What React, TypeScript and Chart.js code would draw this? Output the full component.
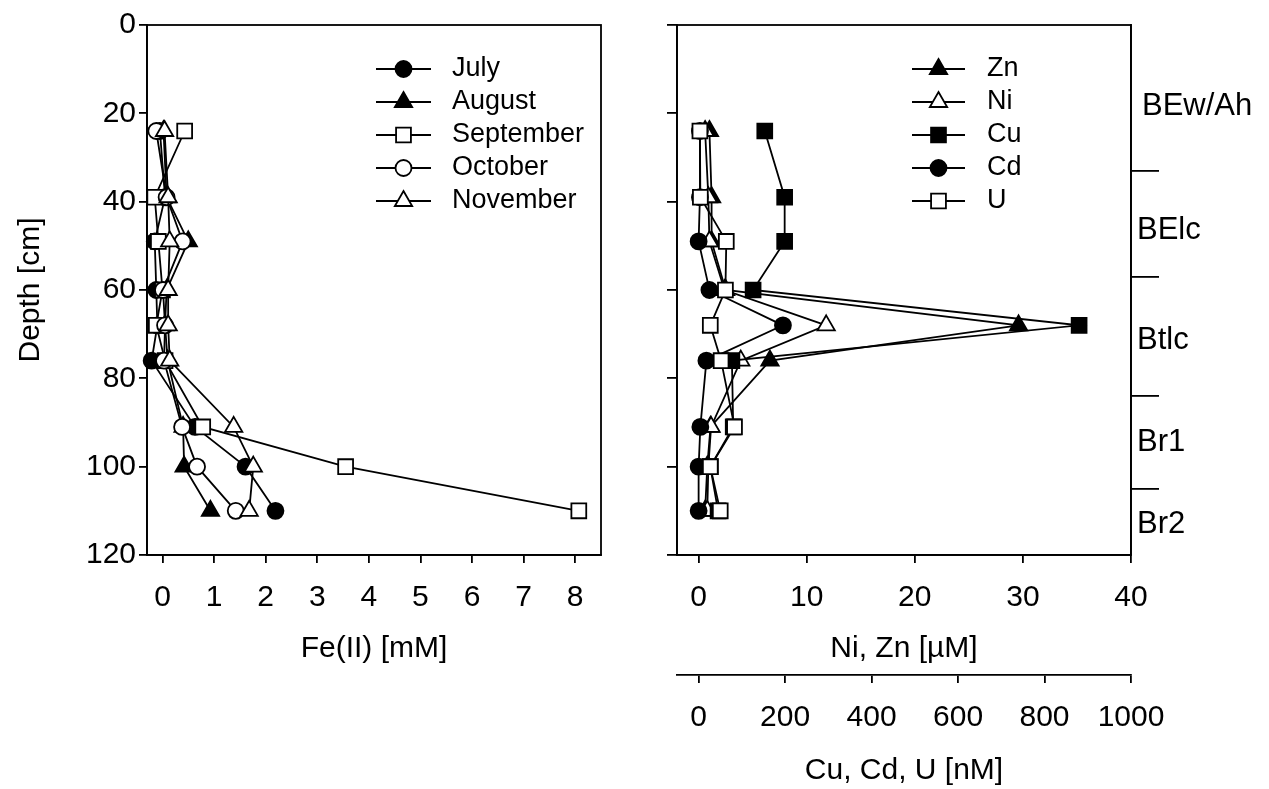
import React, { useEffect, useRef } from 'react';
import { Chart, registerables } from 'chart.js';
import { drawPoint } from 'chart.js/helpers';

Chart.register(...registerables);

// ---------------- data ----------------
const depths = [24, 39, 49, 60, 68, 76, 91, 100, 110];

const monthNames = ['July', 'August', 'September', 'October', 'November'];
const feJuly = [-0.05, 0.05, -0.15, -0.12, -0.1, -0.21, 0.63, 1.61, 2.19];
const feAugust = [0.02, 0.08, 0.5, 0.08, 0.05, 0.1, 0.4, 0.42, 0.93];
const feSeptember = [0.43, -0.15, -0.08, 0.0, -0.12, 0.05, 0.78, 3.55, 8.07];
const feOctober = [-0.12, 0.08, 0.39, 0.01, 0.05, 0.03, 0.38, 0.67, 1.42];
const feNovember = [0.04, 0.11, 0.14, 0.11, 0.11, 0.14, 1.38, 1.76, 1.68];

const metalNames = ['Zn', 'Ni', 'Cu', 'Cd', 'U'];
const znUM = [1.0, 1.2, 1.2, 2.5, 29.6, 6.6, 1.1, 0.8, 0.6];
const niUM = [0.6, 0.9, 1.0, 2.4, 11.8, 3.9, 1.15, 0.9, 0.8];
const cuNM = [153, 199, 199, 126, 880, 77, 80, 27, 45];
const cdNM = [3, 3, 0, 25, 195, 18, 4, 0, 0];
const uNM = [3, 4, 64, 62, 27, 52, 83, 27, 50];

const depthTicks = [0, 20, 40, 60, 80, 100, 120];
const feTicks = [0, 1, 2, 3, 4, 5, 6, 7, 8];
const umTicks = [0, 10, 20, 30, 40];
const nmTicks = [0, 200, 400, 600, 800, 1000];
const horizonBounds = [33, 57, 84, 105];
const horizonNames = ['BEw/Ah', 'BElc', 'Btlc', 'Br1', 'Br2'];
const horizonLabelDepths = [18.5, 46.5, 71.5, 94.5, 113];

// ---------------- styling ----------------
const FONT = "'Liberation Sans', Arial, sans-serif";
const BLACK = '#000';

function series(label: string, xs: number[], style: string, filled: boolean, idx: number, xAxisID = 'x') {
  const radius = style === 'circle' ? 8 : style === 'triangle' ? 10 : 10.5;
  return {
    label,
    data: depths.map((d, i) => ({ x: xs[i], y: d })),
    showLine: true,
    borderColor: BLACK,
    borderWidth: 1.8,
    pointStyle: style,
    pointRadius: radius,
    pointHoverRadius: radius,
    pointBackgroundColor: filled ? BLACK : '#fff',
    pointBorderColor: BLACK,
    pointBorderWidth: 1.8,
    tension: 0,
    fill: false,
    clip: false,
    order: 20 - idx,
    xAxisID,
    yAxisID: 'y',
  };
}

const framePlugin = {
  id: 'frame',
  afterDraw(chart: any) {
    const { ctx, chartArea: a } = chart;
    ctx.save();
    ctx.strokeStyle = BLACK;
    ctx.lineWidth = 1.8;
    ctx.strokeRect(a.left, a.top, a.right - a.left, a.bottom - a.top);
    ctx.restore();
  },
};

const legendPlugin = {
  id: 'inlineLegend',
  afterDraw(chart: any, _args: any, o: any) {
    if (!o || o.x0 === undefined) return;
    const ctx = chart.ctx;
    ctx.save();
    chart.data.datasets.forEach((ds: any, i: number) => {
      const y = o.y0 + i * o.dy;
      ctx.strokeStyle = BLACK;
      ctx.lineWidth = 1.8;
      ctx.beginPath();
      ctx.moveTo(o.x0, y);
      ctx.lineTo(o.x1, y);
      ctx.stroke();
      ctx.fillStyle = ds.pointBackgroundColor;
      ctx.strokeStyle = BLACK;
      ctx.lineWidth = ds.pointBorderWidth;
      drawPoint(ctx, { pointStyle: ds.pointStyle, radius: ds.pointRadius, borderWidth: ds.pointBorderWidth, rotation: 0 } as any, (o.x0 + o.x1) / 2, y);
      ctx.fillStyle = BLACK;
      ctx.font = `${o.size}px ${FONT}`;
      ctx.textBaseline = 'middle';
      ctx.textAlign = 'left';
      ctx.fillText(ds.label, o.tx, y);
    });
    ctx.restore();
  },
};

const horizonPlugin = {
  id: 'horizonLabels',
  afterDraw(chart: any) {
    const ctx = chart.ctx;
    const ys = chart.scales.y;
    const x = chart.chartArea.right + 6;
    ctx.save();
    ctx.fillStyle = BLACK;
    ctx.font = `31px ${FONT}`;
    ctx.textBaseline = 'middle';
    ctx.textAlign = 'left';
    horizonNames.forEach((n, i) => {
      ctx.fillText(n, x + (i === 0 ? 5 : 0), ys.getPixelForValue(horizonLabelDepths[i]));
    });
    ctx.restore();
  },
};

const gridOpts = (tickLength: number) => ({
  display: true,
  drawOnChartArea: false,
  drawTicks: true,
  tickLength,
  tickWidth: 1.8,
  tickColor: BLACK,
  color: BLACK,
  lineWidth: 1.8,
});
const borderOpts = { display: true, color: BLACK, width: 1.8 };
const tickFont = { family: FONT, size: 30 };
const titleFont = { family: FONT, size: 30 };
const plainLabel = (v: any) => String(v);

function setTicks(values: number[]) {
  return (s: any) => {
    s.ticks = values.map((v) => ({ value: v }));
  };
}

function depthAxis(width: number, showLabels: boolean, tickLength: number, withTitle: boolean) {
  return {
    type: 'linear',
    position: 'left',
    min: 0,
    max: 120,
    reverse: true,
    afterBuildTicks: setTicks(depthTicks),
    afterFit: (s: any) => {
      s.width = width;
    },
    grid: gridOpts(tickLength),
    border: borderOpts,
    ticks: { display: showLabels, font: tickFont, color: BLACK, padding: 3, callback: plainLabel },
    title: {
      display: withTitle,
      text: 'Depth [cm]',
      font: titleFont,
      color: BLACK,
      padding: { top: 13, bottom: 0 },
    },
  };
}

function bottomAxis(min: number, max: number, values: number[], title: string, height: number, titlePadBottom: number, weight: number) {
  return {
    type: 'linear',
    position: 'bottom',
    weight,
    min,
    max,
    afterBuildTicks: setTicks(values),
    afterFit: (s: any) => {
      s.height = height;
    },
    grid: gridOpts(8),
    border: borderOpts,
    ticks: { font: tickFont, color: BLACK, padding: 17, maxRotation: 0, autoSkip: false, callback: plainLabel },
    title: {
      display: true,
      text: title,
      font: titleFont,
      color: BLACK,
      padding: { top: 0, bottom: titlePadBottom },
    },
  };
}

export default function App() {
  const leftRef = useRef<HTMLCanvasElement>(null);
  const rightRef = useRef<HTMLCanvasElement>(null);

  useEffect(() => {
    document.body.style.margin = '0';
    document.body.style.overflow = 'hidden';
    Chart.defaults.color = BLACK;
    Chart.defaults.font.family = FONT;

    const leftChart = new Chart(leftRef.current as HTMLCanvasElement, {
      type: 'scatter',
      data: {
        datasets: [
          series(monthNames[0], feJuly, 'circle', true, 0),
          series(monthNames[1], feAugust, 'triangle', true, 1),
          series(monthNames[2], feSeptember, 'rect', false, 2),
          series(monthNames[3], feOctober, 'circle', false, 3),
          series(monthNames[4], feNovember, 'triangle', false, 4),
        ] as any,
      },
      options: {
        responsive: false,
        animation: false,
        events: [],
        layout: { padding: { left: 0, right: 29, top: 25, bottom: 114 } },
        scales: {
          x: bottomAxis(-0.3, 8.5, feTicks, 'Fe(II) [mM]', 120, 8, 0),
          y: depthAxis(147, true, 8, true),
        } as any,
        plugins: {
          legend: { display: false },
          tooltip: { enabled: false },
          inlineLegend: { x0: 376, x1: 431, tx: 452, y0: 69, dy: 33, size: 27 },
        } as any,
      },
      plugins: [framePlugin, legendPlugin],
    });

    const rightChart = new Chart(rightRef.current as HTMLCanvasElement, {
      type: 'scatter',
      data: {
        datasets: [
          series(metalNames[0], znUM, 'triangle', true, 0, 'x'),
          series(metalNames[1], niUM, 'triangle', false, 1, 'x'),
          series(metalNames[2], cuNM, 'rect', true, 2, 'x2'),
          series(metalNames[3], cdNM, 'circle', true, 3, 'x2'),
          series(metalNames[4], uNM, 'rect', false, 4, 'x2'),
        ] as any,
      },
      options: {
        responsive: false,
        animation: false,
        events: [],
        layout: { padding: { left: 0, right: 0, top: 25, bottom: 0 } },
        scales: {
          x: bottomAxis(-2, 40, umTicks, 'Ni, Zn [µM]', 120, 8, 0),
          x2: bottomAxis(-50, 1000, nmTicks, 'Cu, Cd, U [nM]', 114, 0, 1),
          y: depthAxis(47, false, 10, false),
          yh: {
            type: 'linear',
            position: 'right',
            min: 0,
            max: 120,
            reverse: true,
            afterBuildTicks: setTicks(horizonBounds),
            afterFit: (s: any) => {
              s.width = 138;
            },
            grid: gridOpts(28),
            border: borderOpts,
            ticks: { display: false },
          },
        } as any,
        plugins: {
          legend: { display: false },
          tooltip: { enabled: false },
          inlineLegend: { x0: 282, x1: 335, tx: 357, y0: 69, dy: 33, size: 27 },
        } as any,
      },
      plugins: [framePlugin, legendPlugin, horizonPlugin],
    });

    return () => {
      leftChart.destroy();
      rightChart.destroy();
    };
  }, []);

  return (
    <div style={{ position: 'relative', width: 1269, height: 789, background: '#fff', overflow: 'hidden' }}>
      <canvas ref={leftRef} width={630} height={789} style={{ position: 'absolute', left: 0, top: 0, display: 'block' }} />
      <canvas ref={rightRef} width={639} height={789} style={{ position: 'absolute', left: 630, top: 0, display: 'block' }} />
    </div>
  );
}
